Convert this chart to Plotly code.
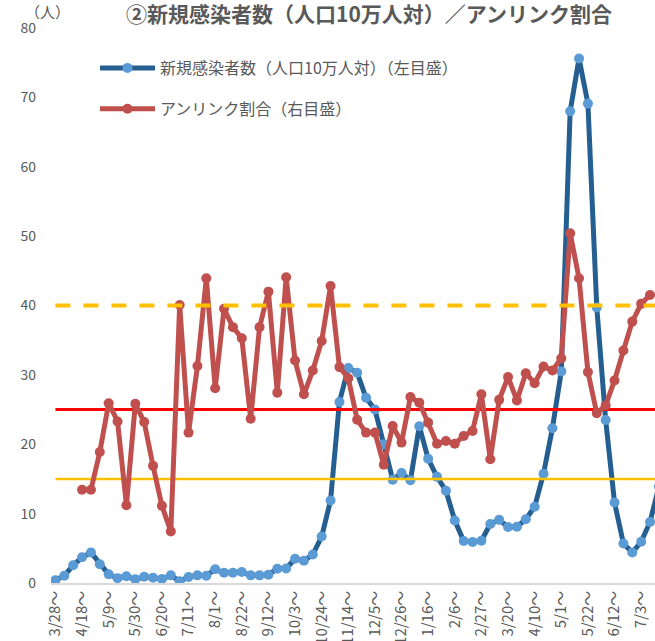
import plotly.graph_objects as go

# Weekly data (week index 0 = 3/28~)
new_cases = [0.4, 1.05, 2.55, 3.7, 4.4, 2.7, 1.25, 0.7, 0.97, 0.53,
             0.9, 0.76, 0.58, 1.1, 0.25, 0.86, 1.1, 1.05, 1.97, 1.48,
             1.48, 1.58, 1.1, 1.1, 1.2, 2.06, 2.1, 3.5, 3.2, 4.1,
             6.7, 11.9, 26.1, 31.0, 30.3, 26.7, 25.0, 20.0, 14.9, 15.85,
             14.8, 22.6, 17.9, 15.3, 13.3, 9.0, 6.05, 5.9, 6.1, 8.5,
             9.1, 8.07, 8.1, 9.2, 11.0, 15.75, 22.3, 30.5, 68.0, 75.6,
             69.1, 39.7, 23.5, 11.6, 5.7, 4.4, 5.95, 8.8, 13.9]

unlinked_pct = [None, None, None, 16.8, 16.8, 23.6, 32.4, 29.1, 14.0, 32.3,
                29.0, 21.1, 13.9, 9.3, 50.1, 27.1, 39.1, 54.9, 35.1, 49.4,
                46.1, 44.1, 29.6, 46.1, 52.5, 34.3, 55.1, 40.1, 34.0, 38.3,
                43.6, 53.5, 38.9, 36.9, 29.4, 27.1, 27.1, 21.3, 28.3, 25.3,
                33.5, 32.5, 28.9, 25.1, 25.6, 25.1, 26.5, 27.4, 34.0, 22.3,
                33.0, 37.1, 32.9, 37.8, 36.0, 39.0, 38.3, 40.5, 63.0, 54.9,
                38.0, 30.6, 32.0, 36.5, 41.9, 47.1, 50.3, 51.9, None]

tick_labels = ["3/28～", "4/18～", "5/9～", "5/30～", "6/20～", "7/11～", "8/1～",
               "8/22～", "9/12～", "10/3～", "10/24～", "11/14～", "12/5～",
               "12/26～", "1/16～", "2/6～", "2/27～", "3/20～", "4/10～",
               "5/1～", "5/22～", "6/12～", "7/3～"]

stage3_cases = 15      # left axis
stage4_cases = 25      # left axis
unlinked_threshold = 50  # right axis (%)

weeks = list(range(len(new_cases)))
tick_vals = weeks[0::3][:len(tick_labels)]

FONT = "Noto Sans CJK JP"
GRAY = "#595959"

fig = go.Figure()

fig.add_trace(go.Scatter(
    x=weeks, y=new_cases, mode="lines+markers",
    name="新規感染者数（人口10万人対）（左目盛）",
    line=dict(color="#255E91", width=5),
    marker=dict(color="#5B9BD5", size=10),
    legendgroup="a",
))
fig.add_trace(go.Scatter(
    x=weeks, y=unlinked_pct, mode="lines+markers", yaxis="y2",
    name="アンリンク割合（右目盛）",
    line=dict(color="#C0504D", width=5),
    marker=dict(color="#C0504D", size=10),
    legendgroup="b",
))

span = [weeks[0], weeks[-1] + 5]
fig.add_trace(go.Scatter(x=span, y=[unlinked_threshold] * 2, yaxis="y2", mode="lines",
                         line=dict(color="#FFC000", width=4, dash="15px,13px"),
                         showlegend=False, hoverinfo="skip"))
fig.add_trace(go.Scatter(x=span, y=[stage4_cases] * 2, mode="lines",
                         line=dict(color="#FF0000", width=3),
                         showlegend=False, hoverinfo="skip"))
fig.add_trace(go.Scatter(x=span, y=[stage3_cases] * 2, mode="lines",
                         line=dict(color="#FFC000", width=2.5),
                         showlegend=False, hoverinfo="skip"))

L, T, PW, PH = 51, 28, 604, 555

fig.update_layout(
    width=655, height=641,
    margin=dict(l=L, r=655 - L - PW, t=T, b=641 - T - PH, autoexpand=False),
    paper_bgcolor="white", plot_bgcolor="white",
    font=dict(family=FONT, color=GRAY),
    title=dict(text="<b>②新規感染者数（人口10万人対）／アンリンク割合</b>",
               x=369 / 655, xanchor="center", y=1 - 15 / 641, yanchor="middle",
               font=dict(size=21, color=GRAY, family=FONT), automargin=False),
    showlegend=True,
    legend=dict(x=(95 - L) / PW, xanchor="left", y=1 - (51 - T) / PH, yanchor="top",
                bgcolor="rgba(0,0,0,0)", font=dict(size=16, color=GRAY, family=FONT),
                tracegroupgap=17, itemwidth=55),
    xaxis=dict(range=[-0.5, 67.56], tickmode="array", tickvals=tick_vals,
               ticktext=tick_labels, tickangle=-90, showgrid=False, zeroline=False,
               showline=True, linecolor="#D9D9D9", linewidth=1.5, ticks="",
               automargin=False,
               tickfont=dict(size=15, color=GRAY, family=FONT)),
    yaxis=dict(range=[0, 80], dtick=10, showgrid=False, zeroline=False,
               showline=False, ticks="", ticklabelstandoff=14, automargin=False,
               tickfont=dict(size=14, color=GRAY, family=FONT)),
    yaxis2=dict(range=[0, 100], overlaying="y", side="right", visible=False),
    annotations=[dict(text="（人）", xref="paper", yref="paper",
                      x=(47 - L) / PW, y=1 + (T - 11) / PH, xanchor="center",
                      yanchor="middle", showarrow=False,
                      font=dict(size=15, color=GRAY, family=FONT))],
)

fig.write_html("out.html", config={"displayModeBar": False},
               post_script="document.body.style.margin='0';document.body.style.overflow='hidden';")
